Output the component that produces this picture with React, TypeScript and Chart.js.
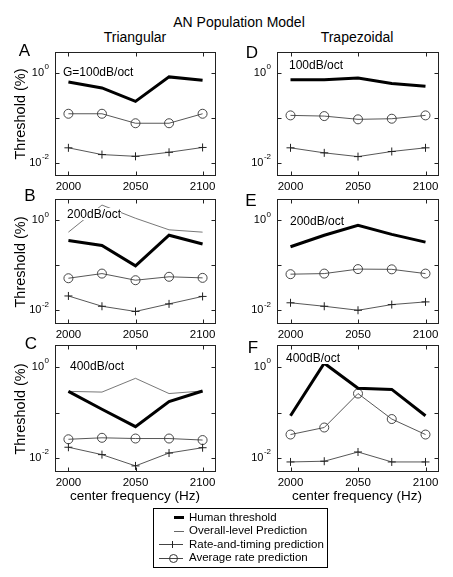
import React, { useEffect, useRef } from "react";
import { Chart, registerables } from "chart.js";
Chart.register(...registerables);

const FONT = '"Liberation Sans", Arial, Helvetica, sans-serif';

// ---------- shared axis data ----------
const freqs = [2000, 2025, 2050, 2075, 2100];
const xTickValues = [2000, 2050, 2100];
const yTickValues = [0.01, 0.1, 1];
const yTickBase = ["10", "", "10"];
const yTickExponents = ["-2", "", "0"];
const seriesNames = [
  "Human threshold",
  "Overall-level Prediction",
  "Rate-and-timing prediction",
  "Average rate prediction",
];

// ---------- Panel A : Triangular, G=100dB/oct ----------
const humanA = [0.64, 0.47, 0.235, 0.83, 0.7];
const overallA: number[] = [];
const rateTimingA = [0.0214, 0.0151, 0.0138, 0.017, 0.0218];
const avgRateA = [0.124, 0.124, 0.076, 0.076, 0.124];

// ---------- Panel B : Triangular, 200dB/oct ----------
const humanB = [0.358, 0.278, 0.098, 0.47, 0.3];
const overallB = [0.55, 2.2, 1.12, 0.62, 0.55];
const rateTimingB = [0.021, 0.0124, 0.0095, 0.014, 0.0205];
const avgRateB = [0.052, 0.066, 0.047, 0.056, 0.053];

// ---------- Panel C : Triangular, 400dB/oct ----------
const humanC = [0.29, 0.118, 0.049, 0.173, 0.296];
const overallC = [0.29, 0.28, 0.56, 0.26, 0.296];
const rateTimingC = [0.0174, 0.012, 0.0068, 0.013, 0.017];
const avgRateC = [0.026, 0.028, 0.027, 0.027, 0.025];

// ---------- Panel D : Trapezoidal, 100dB/oct ----------
const humanD = [0.72, 0.72, 0.78, 0.59, 0.51];
const overallD: number[] = [];
const rateTimingD = [0.0214, 0.0165, 0.0136, 0.0177, 0.0214];
const avgRateD = [0.114, 0.11, 0.093, 0.096, 0.114];

// ---------- Panel E : Trapezoidal, 200dB/oct ----------
const humanE = [0.26, 0.47, 0.78, 0.49, 0.33];
const overallE: number[] = [];
const rateTimingE = [0.0148, 0.0124, 0.0101, 0.0135, 0.0155];
const avgRateE = [0.064, 0.066, 0.083, 0.082, 0.066];

// ---------- Panel F : Trapezoidal, 400dB/oct ----------
const humanF = [0.085, 1.2, 0.34, 0.32, 0.085];
const overallF: number[] = [];
const rateTimingF = [0.0083, 0.0086, 0.0137, 0.0083, 0.0083];
const avgRateF = [0.033, 0.047, 0.26, 0.072, 0.033];

const titleText = "AN Population Model";
const columnTitles = ["Triangular", "Trapezoidal"];
const yAxisTitle = "Threshold (%)";
const xAxisTitle = "center frequency (Hz)";

// ---------- layout ----------
const WY = 44;
const HX = 20;
const PT = 6;
const PR = 18;

type PanelSpec = {
  letter: string;
  note: string;
  left: number;
  top: number;
  width: number;
  height: number;
  letterPos: [number, number];
  notePos: [number, number];
  human: number[];
  overall: number[];
  rateTiming: number[];
  avgRate: number[];
};

const panels: PanelSpec[] = [
  { letter: "A", note: "G=100dB/oct", left: 55, top: 52, width: 161, height: 124, letterPos: [24.5, 50], notePos: [63, 72], human: humanA, overall: overallA, rateTiming: rateTimingA, avgRate: avgRateA },
  { letter: "B", note: "200dB/oct", left: 55, top: 199, width: 161, height: 125, letterPos: [30, 195], notePos: [67, 214], human: humanB, overall: overallB, rateTiming: rateTimingB, avgRate: avgRateB },
  { letter: "C", note: "400dB/oct", left: 55, top: 345, width: 161, height: 127, letterPos: [31, 343], notePos: [70, 366], human: humanC, overall: overallC, rateTiming: rateTimingC, avgRate: avgRateC },
  { letter: "D", note: "100dB/oct", left: 277, top: 52, width: 162, height: 124, letterPos: [252, 52], notePos: [289, 64.5], human: humanD, overall: overallD, rateTiming: rateTimingD, avgRate: avgRateD },
  { letter: "E", note: "200dB/oct", left: 277, top: 199, width: 162, height: 125, letterPos: [251, 200], notePos: [290, 220.5], human: humanE, overall: overallE, rateTiming: rateTimingE, avgRate: avgRateE },
  { letter: "F", note: "400dB/oct", left: 277, top: 345, width: 162, height: 127, letterPos: [253, 347], notePos: [286, 357.5], human: humanF, overall: overallF, rateTiming: rateTimingF, avgRate: avgRateF },
];

const boxPlugin = {
  id: "matlabBox",
  afterDatasetsDraw(chart: any) {
    const { ctx, chartArea: a, scales } = chart;
    ctx.save();
    ctx.strokeStyle = "#222";
    ctx.lineWidth = 1;
    const L = Math.round(a.left) + 0.5;
    const R = Math.round(a.right) - 0.5;
    const T = Math.round(a.top) + 0.5;
    const B = Math.round(a.bottom) - 0.5;
    ctx.strokeRect(L, T, R - L, B - T);
    const tl = 4;
    ctx.beginPath();
    xTickValues.forEach((v) => {
      const p = Math.round(scales.x.getPixelForValue(v)) + 0.5;
      ctx.moveTo(p, B);
      ctx.lineTo(p, B - tl);
      ctx.moveTo(p, T);
      ctx.lineTo(p, T + tl);
    });
    yTickValues.forEach((v) => {
      const p = Math.round(scales.y.getPixelForValue(v)) + 0.5;
      ctx.moveTo(L, p);
      ctx.lineTo(L + tl, p);
      ctx.moveTo(R, p);
      ctx.lineTo(R - tl, p);
    });
    ctx.stroke();
    // y tick labels: base "10" with raised exponent
    ctx.fillStyle = "#000";
    ctx.textBaseline = "middle";
    ctx.textAlign = "right";
    yTickValues.forEach((v, i) => {
      if (!yTickBase[i]) return;
      const p = scales.y.getPixelForValue(v);
      const xr = a.left - 6;
      ctx.font = `8px ${FONT}`;
      const ew = ctx.measureText(yTickExponents[i]).width;
      ctx.fillText(yTickExponents[i], xr, p - 6);
      ctx.font = `11px ${FONT}`;
      ctx.fillText(yTickBase[i], xr - ew - 0.5, p);
    });
    ctx.restore();
  },
};

const pts = (arr: number[]) => arr.map((y, i) => ({ x: freqs[i], y }));

function Panel({ spec }: { spec: PanelSpec }) {
  const ref = useRef<HTMLCanvasElement>(null);
  useEffect(() => {
    const chart = new Chart(ref.current as HTMLCanvasElement, {
      type: "line",
      data: {
        datasets: [
          { label: seriesNames[0], data: pts(spec.human), borderColor: "#000", borderWidth: 3, pointRadius: 0, fill: false, tension: 0 },
          { label: seriesNames[1], data: pts(spec.overall), borderColor: "#555", borderWidth: 0.8, pointRadius: 0, fill: false, tension: 0 },
          { label: seriesNames[2], data: pts(spec.rateTiming), borderColor: "#444", borderWidth: 0.9, pointStyle: "cross", pointRadius: 4, pointBorderColor: "#222", pointBorderWidth: 1, fill: false, tension: 0 },
          { label: seriesNames[3], data: pts(spec.avgRate), borderColor: "#444", borderWidth: 0.9, pointStyle: "circle", pointRadius: 4.5, pointBackgroundColor: "rgba(255,255,255,0)", pointBorderColor: "#333", pointBorderWidth: 0.9, fill: false, tension: 0 },
        ] as any,
      },
      options: {
        animation: false,
        responsive: false,
        maintainAspectRatio: false,
        events: [],
        layout: { padding: { left: 0, top: PT, right: PR, bottom: 0 } },
        plugins: { legend: { display: false }, tooltip: { enabled: false }, title: { display: false } },
        scales: {
          x: {
            type: "linear",
            min: 1990,
            max: 2110,
            grid: { display: false, drawTicks: false },
            border: { display: false },
            afterBuildTicks: (s: any) => {
              s.ticks = xTickValues.map((v) => ({ value: v }));
            },
            afterFit: (s: any) => {
              s.height = HX;
            },
            ticks: {
              autoSkip: false,
              maxRotation: 0,
              padding: 4,
              color: "#000",
              font: { family: FONT, size: 11.5 },
              callback: (v: any) => String(v),
            },
          },
          y: {
            type: "logarithmic",
            min: 0.005,
            max: 3,
            grid: { display: false, drawTicks: false },
            border: { display: false },
            afterBuildTicks: (s: any) => {
              s.ticks = yTickValues.map((v) => ({ value: v }));
            },
            afterFit: (s: any) => {
              s.width = WY;
            },
            ticks: { display: false },
          },
        } as any,
      },
      plugins: [boxPlugin],
    });
    return () => chart.destroy();
  }, [spec]);
  return (
    <canvas
      ref={ref}
      width={WY + spec.width + PR}
      height={PT + spec.height + HX}
      style={{ position: "absolute", left: spec.left - WY, top: spec.top - PT }}
    />
  );
}

function Txt({ x, y, size, children, align = "center", rotate = false, bg }: any) {
  const tx = align === "center" ? "-50%" : "0";
  return (
    <div
      style={{
        position: "absolute",
        left: x,
        top: y,
        fontSize: size,
        lineHeight: 1,
        whiteSpace: "nowrap",
        color: "#000",
        background: bg,
        transform: rotate ? "translate(-50%,-50%) rotate(-90deg)" : `translate(${tx},-50%)`,
      }}
    >
      {children}
    </div>
  );
}

function LegendRow({ idx, y }: { idx: number; y: number }) {
  const line = (left: number, width: number, h: number, color: string) => (
    <div style={{ position: "absolute", left, top: y - h / 2, width, height: h, background: color }} />
  );
  return (
    <>
      {idx === 0 && line(20, 10, 3, "#000")}
      {idx === 1 && line(20, 10, 1, "#666")}
      {idx === 2 && (
        <>
          {line(5, 24, 1, "#444")}
          <div style={{ position: "absolute", left: 17.5, top: y - 3.5, width: 1, height: 7, background: "#222" }} />
        </>
      )}
      {idx === 3 && (
        <>
          {line(5, 24, 1, "#444")}
          <div style={{ position: "absolute", left: 14.5, top: y - 4.5, width: 9, height: 9, boxSizing: "border-box", border: "1px solid #333", borderRadius: "50%" }} />
        </>
      )}
      <div style={{ position: "absolute", left: 35, top: y, transform: "translateY(-50%)", fontSize: 11.5, lineHeight: 1, whiteSpace: "nowrap" }}>
        {seriesNames[idx]}
      </div>
    </>
  );
}

export default function App() {
  const legendYs = [9.5, 23, 36.5, 50];
  return (
    <div
      style={{
        position: "absolute",
        left: 0,
        top: 0,
        width: 453,
        height: 577,
        background: "#fff",
        fontFamily: FONT,
        overflow: "hidden",
      }}
    >
      <Txt x={239} y={21.5} size={14}>{titleText}</Txt>
      <Txt x={135} y={37} size={14}>{columnTitles[0]}</Txt>
      <Txt x={357} y={37} size={14}>{columnTitles[1]}</Txt>
      {panels.map((p) => (
        <Panel key={p.letter} spec={p} />
      ))}
      {panels.map((p) => (
        <React.Fragment key={"t" + p.letter}>
          <Txt x={p.letterPos[0]} y={p.letterPos[1]} size={17}>{p.letter}</Txt>
          <Txt x={p.notePos[0]} y={p.notePos[1]} size={12} align="left" bg="#fff">{p.note}</Txt>
        </React.Fragment>
      ))}
      {panels.slice(0, 3).map((p) => (
        <Txt key={"y" + p.letter} x={20} y={p.top + p.height / 2} size={14.5} rotate>
          {yAxisTitle}
        </Txt>
      ))}
      <Txt x={135} y={496} size={13.5}>{xAxisTitle}</Txt>
      <Txt x={357} y={496} size={13.5}>{xAxisTitle}</Txt>
      <div
        style={{
          position: "absolute",
          left: 153,
          top: 508,
          width: 175,
          height: 60,
          border: "1px solid #000",
          boxSizing: "border-box",
        }}
      >
        {legendYs.map((y, i) => (
          <LegendRow key={i} idx={i} y={y - 1} />
        ))}
      </div>
    </div>
  );
}
